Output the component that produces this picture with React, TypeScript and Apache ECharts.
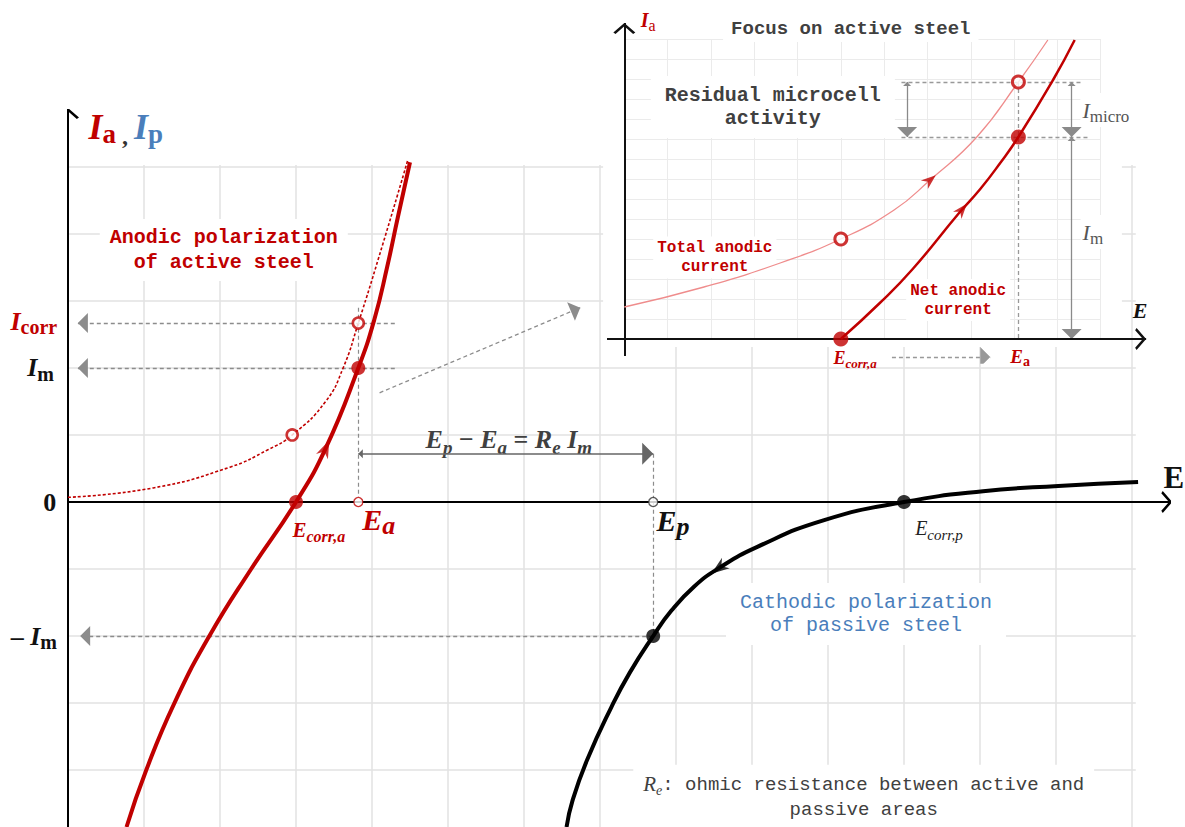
import React, { useEffect, useRef } from "react";
import * as echarts from "echarts";

const RED = "#c00000";
const LIGHT_RED = "#ef8c8c";
const BLUE = "#4a7ebb";
const GUIDE = "#8c8c8c";
const TEXT_DARK = "#404040";
const SERIF = '"Liberation Serif", "DejaVu Serif", serif';
const MONO = '"Liberation Mono", "DejaVu Sans Mono", monospace';

// ---------------- main chart values (grid-cell units) ----------------
const mainXTicks = [1, 2, 3, 4, 5, 6, 7, 8, 9, 10, 11, 12, 13, 14];
const mainYTicks = [-4, -3, -2, -1, 1, 2, 3, 4, 5];
const netAnodicMain = [
  [0.77, -4.85], [1.03, -4.0], [1.4, -3.0], [1.86, -2.0], [2.41, -1.0],
  [3.0, 0], [3.39, 0.8], [3.82, 2.0], [4.03, 2.72], [4.2, 3.51], [4.34, 4.25], [4.5, 5.07],
];
const totalAnodicMain = [
  [0, 0.07], [1.12, 0.21], [2.13, 0.52], [2.63, 0.78], [2.95, 1.0], [3.39, 1.5],
  [3.62, 2.0], [3.82, 2.67], [4.14, 3.84], [4.47, 5.1],
];
const cathodicPassive = [
  [6.56, -4.85], [6.64, -4.45], [6.83, -3.85], [7.15, -3.06], [7.39, -2.55], [7.7, -2.0],
  [7.94, -1.62], [8.24, -1.26], [8.56, -0.99], [9.07, -0.67], [9.95, -0.27], [11.0, 0],
  [12.04, 0.16], [13.03, 0.24], [14.08, 0.3],
];
const E_CORR_A = 3.0;
const E_A = 3.82;
const E_P = 7.7;
const E_CORR_P = 11.0;
const I_M = 2.0;
const I_CORR = 2.67;
const E_TOT_MARK = 2.95;
const I_TOT_MARK = 1.0;

// ---------------- inset values ----------------
const insetXTicks = [1, 2, 3, 4, 5, 6, 7, 8, 9, 10, 11];
const insetYTicks = [1, 2, 3, 4, 5, 6, 7, 8, 9, 10, 11, 12, 13, 14, 15];
const totalAnodicInset = [
  [0, 1.6], [1.84, 2.6], [3.6, 3.8], [5, 5], [6.23, 6.45], [7.06, 7.95], [8.14, 10.1],
  [9.1, 12.85], [9.78, 14.95],
];
const netAnodicInset = [
  [5, 0], [5.9, 1.8], [6.66, 3.5], [7.73, 6.3], [8.22, 7.5], [8.68, 8.8], [9.1, 10.1],
  [9.9, 12.95], [10.4, 14.95],
];
const IN_E_CORR = 5.0;
const IN_E_A = 9.1;
const IN_I_M = 10.1;
const IN_I_TOT = 12.85;
const IN_I_TOT_ECORR = 5.0;

// ---------------- symbols ----------------
const TIP_TRIANGLE = "path://M5,0 L10,12 L0,12 Z M5,-12 L5.01,-12 Z";
const TIP_CHEVRON = "path://M10,0 L20,13 L18,15 L10,4.5 L2,15 L0,13 Z M10,-15 L10.01,-15 Z";
const STEALTH = "path://M5,0 L10,13 L5,9 L0,13 Z";

type Opts = {
  color: string;
  F: number;
  S: number;
  P?: number;
  mainBold?: boolean;
  mainItalic?: boolean;
  subBold?: boolean;
  subItalic?: boolean;
  bg?: boolean;
  pad?: number[];
};

function math(tokens: string, o: Opts) {
  const P = o.P ?? Math.max(3, Math.round(o.F * 0.14));
  return {
    formatter: tokens,
    color: o.color,
    textBorderWidth: 0,
    backgroundColor: o.bg ? "#fff" : "transparent",
    padding: o.pad || 0,
    rich: {
      m: {
        fontFamily: SERIF,
        fontStyle: o.mainItalic === false ? "normal" : "italic",
        fontWeight: o.mainBold === false ? "normal" : "bold",
        fontSize: o.F,
        padding: [P, 0, P, 0],
        verticalAlign: "bottom",
        color: o.color,
      },
      s: {
        fontFamily: SERIF,
        fontStyle: o.subItalic ? "italic" : "normal",
        fontWeight: o.subBold ? "bold" : "normal",
        fontSize: o.S,
        verticalAlign: "bottom",
        color: o.color,
      },
      u: {
        fontFamily: SERIF,
        fontStyle: "normal",
        fontWeight: o.mainBold === false ? "normal" : "bold",
        fontSize: o.F,
        padding: [P, 0, P, 0],
        verticalAlign: "bottom",
        color: o.color,
      },
    },
  };
}

function mono(text: string, color: string, size: number, lh: number, bold: boolean, pad: number[]) {
  return {
    formatter: text,
    fontFamily: MONO,
    fontWeight: bold ? "bold" : "normal",
    fontSize: size,
    lineHeight: lh,
    color,
    align: "center",
    textBorderWidth: 0,
    backgroundColor: "#fff",
    padding: pad,
  };
}

const mainNotes: { at: number[]; label: any }[] = [
  {
    at: [0.76, 5.6],
    label: {
      formatter: "{r|I}{rs|a}{c| , }{b|I}{bs|p}",
      textBorderWidth: 0,
      rich: {
        r: { fontFamily: SERIF, fontStyle: "italic", fontWeight: "bold", fontSize: 36, padding: [3, 0, 3, 0], verticalAlign: "bottom", color: RED },
        rs: { fontFamily: SERIF, fontWeight: "bold", fontSize: 27, verticalAlign: "bottom", color: RED },
        c: { fontFamily: SERIF, fontWeight: "bold", fontSize: 24, verticalAlign: "bottom", color: "#333" },
        b: { fontFamily: SERIF, fontStyle: "italic", fontWeight: "bold", fontSize: 36, padding: [3, 0, 3, 0], verticalAlign: "bottom", color: BLUE },
        bs: { fontFamily: SERIF, fontWeight: "bold", fontSize: 27, verticalAlign: "bottom", color: BLUE },
      },
    },
  },
  { at: [-0.24, 0], label: math("{u|0}", { color: "#111", F: 26, S: 18 }) },
  { at: [-0.36, I_M], label: math("{m|I}{s|m}", { color: "#111", F: 26, S: 20, P: 3, subBold: true }) },
  { at: [-0.45, 2.7], label: math("{m|I}{s|corr}", { color: RED, F: 26, S: 20, P: 3, subBold: true }) },
  { at: [-0.45, -I_M], label: math("{u|– }{m|I}{s|m}", { color: "#111", F: 26, S: 20, P: 3, subBold: true }) },
  { at: [3.3, -0.42], label: math("{m|E}{s|corr,a}", { color: RED, F: 21, S: 16, P: 4, subBold: true, subItalic: true }) },
  { at: [4.09, -0.26], label: math("{m|E}{s|a}", { color: RED, F: 30, S: 26, P: 4, subBold: true, subItalic: true }) },
  { at: [7.96, -0.28], label: math("{m|E}{s|p}", { color: "#111", F: 30, S: 26, P: 4, subBold: true, subItalic: true }) },
  { at: [11.46, -0.39], label: math("{m|E}{s|corr,p}", { color: "#222", F: 20, S: 15, P: 4, mainBold: false, subItalic: true }) },
  { at: [14.55, 0.36], label: math("{u|E}", { color: "#111", F: 31, S: 20 }) },
  {
    at: [5.8, 0.93],
    label: math("{m|E}{s|p}{u| − }{m|E}{s|a}{u| = }{m|R}{s|e}{u| }{m|I}{s|m}", {
      color: TEXT_DARK, F: 26, S: 19, P: 4, subItalic: true, subBold: true,
    }),
  },
  { at: [2.05, 3.76], label: mono("Anodic polarization\nof active steel", RED, 20, 25, true, [6, 10]) },
  { at: [10.5, -1.67], label: mono("Cathodic polarization\nof passive steel", BLUE, 20, 23, false, [8, 14]) },
  {
    at: [10.47, -4.4],
    label: {
      formatter: "{ri|R}{rs|e}{t|: ohmic resistance between active and}\n{t|passive areas}",
      backgroundColor: "#fff",
      padding: [6, 10],
      align: "center",
      textBorderWidth: 0,
      rich: {
        ri: { fontFamily: SERIF, fontStyle: "italic", fontSize: 21, padding: [3, 0, 3, 0], verticalAlign: "bottom", color: TEXT_DARK },
        rs: { fontFamily: SERIF, fontStyle: "italic", fontSize: 14, verticalAlign: "bottom", color: TEXT_DARK },
        t: { fontFamily: MONO, fontSize: 19, padding: [3, 0, 3, 0], verticalAlign: "bottom", color: TEXT_DARK },
      },
    },
  },
];

const insetNotes: { at: number[]; label: any }[] = [
  { at: [0.55, 15.95], label: math("{m|I}{s|a}", { color: RED, F: 20, S: 16, P: 3 }) },
  { at: [5.23, 15.5], label: mono("Focus on active steel", TEXT_DARK, 19, 22, true, [2, 8]) },
  { at: [3.43, 11.6], label: mono("Residual microcell\nactivity", TEXT_DARK, 20, 23, true, [8, 14]) },
  { at: [2.09, 4.08], label: mono("Total anodic\ncurrent", RED, 16, 19, true, [2, 4]) },
  { at: [7.71, 1.95], label: mono("Net anodic\ncurrent", RED, 16, 19, true, [2, 4]) },
  { at: [11.91, 1.45], label: math("{m|E}", { color: "#111", F: 22, S: 14 }) },
  { at: [5.33, -0.95], label: math("{m|E}{s|corr,a}", { color: RED, F: 18, S: 13, P: 3, subBold: true, subItalic: true }) },
  { at: [9.14, -0.85], label: math("{m|E}{s|a}", { color: RED, F: 19, S: 14, P: 3, subBold: true }) },
  { at: [11.12, 11.45], label: math("{m|I}{s|micro}", { color: "#555", F: 22, S: 17, P: 4, mainBold: false, bg: true, pad: [2, 2] }) },
  { at: [10.82, 5.35], label: math("{m|I}{s|m}", { color: "#555", F: 22, S: 17, P: 4, mainBold: false, bg: true, pad: [2, 2] }) },
];

function labelSeries(idx: number, notes: { at: number[]; label: any }[], z: number) {
  return {
    type: "scatter",
    xAxisIndex: idx,
    yAxisIndex: idx,
    z,
    silent: true,
    clip: false,
    symbol: "circle",
    symbolSize: 0.1,
    itemStyle: { color: "transparent" },
    data: notes.map((n) => ({
      value: n.at,
      label: { show: true, position: "inside", opacity: 1, ...n.label },
    })),
  };
}

function linesSeries(idx: number, coords: number[][][], lineStyle: any, z: number, symbol: any = "none", symbolSize: any = 10) {
  return {
    type: "lines",
    coordinateSystem: "cartesian2d",
    xAxisIndex: idx,
    yAxisIndex: idx,
    polyline: false,
    silent: true,
    z,
    symbol,
    symbolSize,
    lineStyle: { opacity: 1, curveness: 0, ...lineStyle },
    data: coords.map((c) => ({ coords: c })),
  };
}

function curve(idx: number, data: number[][], lineStyle: any, z: number) {
  return {
    type: "line",
    xAxisIndex: idx,
    yAxisIndex: idx,
    data,
    smooth: 0.5,
    symbol: "none",
    showSymbol: false,
    silent: true,
    z,
    lineStyle,
  };
}

function dots(idx: number, data: any[], size: any, itemStyle: any, z: number, symbol = "circle") {
  return {
    type: "scatter",
    xAxisIndex: idx,
    yAxisIndex: idx,
    symbol,
    symbolSize: size,
    silent: true,
    clip: false,
    z,
    itemStyle,
    data,
  };
}

function buildOption() {
  const mainGrid = [
    ...mainXTicks.map((k) => [[k, -4.85], [k, 5.03]]),
    ...mainYTicks.map((v) => [[0, v], [14.05, v]]),
  ];
  const insetGrid = [
    ...insetXTicks.map((k) => [[k, 0], [k, 15]]),
    ...insetYTicks.map((v) => [[0, v], [11, v]]),
  ];

  return {
    animation: false,
    backgroundColor: "#fff",
    grid: [
      { left: 68, top: 110, width: 1102, height: 717, outerBoundsMode: "none", show: false },
      { left: 607, top: 0, width: 540, height: 363, outerBoundsMode: "none", show: false },
    ],
    xAxis: [
      { gridIndex: 0, type: "value", min: 0, max: 14.5, show: false },
      { gridIndex: 1, type: "value", min: -0.4, max: 12.07, show: false },
    ],
    yAxis: [
      { gridIndex: 0, type: "value", min: -4.85, max: 5.85, show: false },
      { gridIndex: 1, type: "value", min: -1.2, max: 16.95, show: false },
    ],
    series: [
      // main grid
      linesSeries(0, mainGrid, { color: "#e2e2e2", width: 1.5 }, 1),
      // inset white panel
      {
        type: "custom",
        xAxisIndex: 1,
        yAxisIndex: 1,
        z: 2,
        silent: true,
        clip: false,
        data: [[-0.49, -0.4, 11.49, 16.95]],
        renderItem: (_p: any, api: any) => {
          const a = api.coord([api.value(0), api.value(1)]);
          const b = api.coord([api.value(2), api.value(3)]);
          return {
            type: "rect",
            shape: { x: a[0], y: b[1], width: b[0] - a[0], height: a[1] - b[1] },
            style: { fill: "#fff" },
          };
        },
      },
      linesSeries(1, insetGrid, { color: "#ebebeb", width: 1 }, 3),
      // labels
      labelSeries(0, mainNotes, 4),
      labelSeries(1, insetNotes, 4),
      // main axes
      linesSeries(0, [[[0, -4.85], [0, 5.88]], [[0, 0], [14.53, 0]]], { color: "#000", width: 2 }, 6, ["none", TIP_CHEVRON], [14, 22]),
      // main guides
      linesSeries(
        0,
        [
          [[4.3, I_CORR], [0.13, I_CORR]],
          [[4.3, I_M], [0.13, I_M]],
          [[E_P, -I_M], [0.16, -I_M]],
          [[4.1, 1.63], [6.74, 2.9]],
        ],
        { color: GUIDE, width: 1.3, type: [4, 3] },
        5,
        ["none", TIP_TRIANGLE],
        [8, 20]
      ),
      linesSeries(
        0,
        [
          [[E_A, 2.9], [E_A, 0.07]],
          [[E_P, 0.72], [E_P, -I_M]],
        ],
        { color: GUIDE, width: 1.2, type: [4, 3] },
        5
      ),
      linesSeries(0, [[[E_A, 0.72], [E_P, 0.72]]], { color: "#666", width: 1.5 }, 5, [TIP_TRIANGLE, TIP_TRIANGLE], [9, 22]),
      // main curves
      curve(0, totalAnodicMain, { color: RED, width: 1.6, type: [3, 2] }, 7),
      curve(0, netAnodicMain, { color: RED, width: 4 }, 8),
      curve(0, cathodicPassive, { color: "#000", width: 4 }, 8),
      // main markers
      dots(0, [[E_CORR_A, 0], [E_A, I_M]], 14, { color: RED }, 10),
      dots(0, [[E_TOT_MARK, I_TOT_MARK], [E_A, I_CORR]], 11, { color: "#fff", borderColor: RED, borderWidth: 2.6 }, 10),
      dots(0, [[E_A, 0]], 9, { color: "#fff", borderColor: RED, borderWidth: 1.3 }, 10),
      dots(0, [[E_P, 0]], 9, { color: "#fff", borderColor: "#333", borderWidth: 1.3 }, 10),
      dots(0, [[E_P, -I_M], [E_CORR_P, 0]], 14, { color: "#000" }, 10),
      dots(0, [{ value: [3.39, 0.8], symbolRotate: -24 }], [13, 18], { color: RED }, 10, STEALTH),
      dots(0, [{ value: [8.56, -0.99], symbolRotate: 126 }], [13, 18], { color: "#000" }, 10, STEALTH),

      // inset axes
      linesSeries(1, [[[-0.4, 0], [12.05, 0]], [[0, -0.85], [0, 15.8]]], { color: "#111", width: 2 }, 6, ["none", TIP_CHEVRON], [14, 22]),
      // inset guides
      linesSeries(
        1,
        [
          [[6.4, IN_I_TOT], [10.6, IN_I_TOT]],
          [[6.4, IN_I_M], [10.75, IN_I_M]],
          [[IN_E_A, IN_I_TOT], [IN_E_A, 0]],
        ],
        { color: "#999", width: 1.3, type: [4, 3] },
        5
      ),
      linesSeries(
        1,
        [
          [[6.53, IN_I_TOT], [6.53, IN_I_M]],
          [[10.33, IN_I_TOT], [10.33, IN_I_M]],
          [[10.33, IN_I_M], [10.33, 0]],
        ],
        { color: "#8a8a8a", width: 1.3 },
        5,
        [TIP_TRIANGLE, TIP_TRIANGLE],
        [8, 20]
      ),
      linesSeries(1, [[[6.18, -0.9], [8.45, -0.9]]], { color: "#999", width: 1.3, type: [4, 3] }, 5, ["none", TIP_TRIANGLE], [8, 20]),
      // inset curves
      curve(1, totalAnodicInset, { color: LIGHT_RED, width: 1.3 }, 7),
      curve(1, netAnodicInset, { color: RED, width: 2.5 }, 8),
      dots(1, [[IN_E_CORR, IN_I_TOT_ECORR], [IN_E_A, IN_I_TOT]], 12, { color: "#fff", borderColor: RED, borderWidth: 3 }, 10),
      dots(1, [[IN_E_CORR, 0], [IN_E_A, IN_I_M]], 15, { color: RED }, 10),
      dots(1, [{ value: [7.06, 7.95], symbolRotate: -50 }], [11, 15], { color: RED }, 10, STEALTH),
      dots(1, [{ value: [7.8, 6.47], symbolRotate: -40 }], [11, 15], { color: RED }, 10, STEALTH),
    ],
  };
}

export default function App() {
  const ref = useRef<HTMLDivElement>(null);
  useEffect(() => {
    if (!ref.current) return;
    const chart = echarts.init(ref.current, null, { renderer: "svg" });
    chart.setOption(buildOption() as any);
    return () => chart.dispose();
  }, []);
  return (
    <div
      ref={ref}
      style={{ position: "fixed", left: 0, top: 0, width: 1185, height: 827, background: "#fff" }}
    />
  );
}
